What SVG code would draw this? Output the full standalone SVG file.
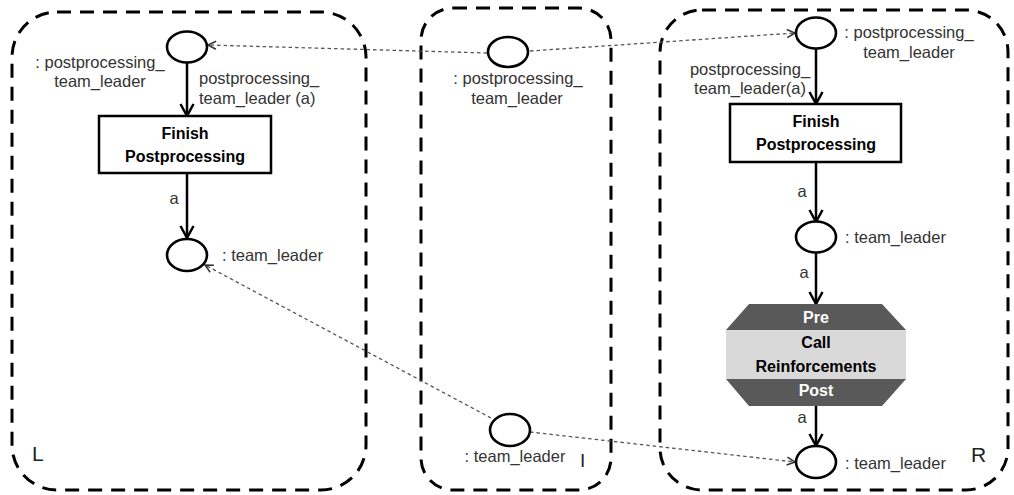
<svg xmlns="http://www.w3.org/2000/svg" width="1014" height="495" viewBox="0 0 1014 495">
<style>
.frame{fill:none;stroke:#000;stroke-width:3;stroke-dasharray:14 9}
.place{fill:#fff;stroke:#000;stroke-width:2.6}
.trans{fill:#fff;stroke:#000;stroke-width:2.5}
.arc{fill:none;stroke:#000;stroke-width:2.5}
.map{fill:none;stroke:#555;stroke-width:1.3;stroke-dasharray:3.5 3}
.lbl{font-family:"Liberation Sans",Arial,sans-serif;font-size:16.5px;fill:#333}
.bold{font-family:"Liberation Sans",Arial,sans-serif;font-size:16px;font-weight:bold;fill:#000;text-anchor:middle}
.wb{font-family:"Liberation Sans",Arial,sans-serif;font-size:16px;font-weight:bold;fill:#fff;text-anchor:middle}
.big{font-family:"Liberation Sans",Arial,sans-serif;font-size:21px;fill:#222}
.mid{text-anchor:middle}
</style>
<defs>
<marker id="ah" markerWidth="18" markerHeight="18" refX="14" refY="8" orient="auto" markerUnits="userSpaceOnUse">
<path d="M2,1.5 L14,8 L2,14.5" fill="none" stroke="#000" stroke-width="2.5"/>
</marker>
<marker id="dh" markerWidth="12" markerHeight="12" refX="9" refY="5" orient="auto" markerUnits="userSpaceOnUse">
<path d="M1,1 L9,5 L1,9" fill="none" stroke="#333" stroke-width="1.5"/>
</marker>
</defs>

<g id="frames">
<rect id="frame-L" class="frame" x="12" y="12" width="354" height="478" rx="45" ry="45"/>
<rect id="frame-I" class="frame" x="421" y="8" width="190" height="482" rx="32" ry="32"/>
<rect id="frame-R" class="frame" x="660" y="10" width="348" height="480" rx="42" ry="42"/>
<text class="big" x="32" y="461">L</text>
<text class="big" x="580" y="467" style="font-size:19px">I</text>
<text class="big" x="971" y="462">R</text>
</g>

<g id="connectors">
<line class="arc" x1="187" y1="63" x2="187" y2="116" marker-end="url(#ah)"/>
<line class="arc" x1="187" y1="173" x2="187" y2="238" marker-end="url(#ah)"/>
<line class="arc" x1="816" y1="49" x2="816" y2="104" marker-end="url(#ah)"/>
<line class="arc" x1="816" y1="162" x2="816" y2="222" marker-end="url(#ah)"/>
<line class="arc" x1="816" y1="253" x2="816" y2="304" marker-end="url(#ah)"/>
<line class="arc" x1="816" y1="406" x2="816" y2="446" marker-end="url(#ah)"/>
<line class="map" x1="487" y1="53" x2="208" y2="45" marker-end="url(#dh)"/>
<line class="map" x1="530" y1="51" x2="795" y2="33" marker-end="url(#dh)"/>
<line class="map" x1="491" y1="418" x2="205" y2="265" marker-end="url(#dh)"/>
<line class="map" x1="530" y1="432" x2="795" y2="462" marker-end="url(#dh)"/>
<text class="lbl" x="199" y="84">postprocessing_</text>
<text class="lbl" x="199" y="104">team_leader (a)</text>
<text class="lbl mid" x="174" y="204">a</text>
<text class="lbl mid" x="750" y="75">postprocessing_</text>
<text class="lbl mid" x="750" y="94">team_leader(a)</text>
<text class="lbl mid" x="802" y="197">a</text>
<text class="lbl mid" x="804" y="278">a</text>
<text class="lbl mid" x="802" y="423">a</text>
</g>

<g id="L-p1">
<ellipse class="place" cx="187" cy="47" rx="20" ry="15.5"/>
<text class="lbl mid" x="100" y="68">: postprocessing_</text>
<text class="lbl mid" x="100" y="87">team_leader</text>
</g>
<g id="L-t1">
<rect class="trans" x="99" y="116" width="172" height="57"/>
<text class="bold" x="185" y="139">Finish</text>
<text class="bold" x="185" y="162">Postprocessing</text>
</g>
<g id="L-p2">
<ellipse class="place" cx="187" cy="255" rx="20" ry="16"/>
<text class="lbl" x="222" y="261">: team_leader</text>
</g>

<g id="I-p1">
<ellipse class="place" cx="508" cy="52" rx="20" ry="15"/>
<text class="lbl mid" x="518" y="84">: postprocessing_</text>
<text class="lbl mid" x="517" y="104">team_leader</text>
</g>
<g id="I-p2">
<ellipse class="place" cx="510" cy="430" rx="20" ry="16"/>
<text class="lbl mid" x="515" y="462">: team_leader</text>
</g>

<g id="R-p1">
<ellipse class="place" cx="816" cy="33" rx="20" ry="15.5"/>
<text class="lbl mid" x="909" y="38">: postprocessing_</text>
<text class="lbl mid" x="909" y="58">team_leader</text>
</g>
<g id="R-t1">
<rect class="trans" x="730" y="104" width="171" height="58"/>
<text class="bold" x="816" y="127">Finish</text>
<text class="bold" x="816" y="150">Postprocessing</text>
</g>
<g id="R-p2">
<ellipse class="place" cx="816" cy="237" rx="20" ry="15.5"/>
<text class="lbl" x="845" y="243">: team_leader</text>
</g>
<g id="R-call">
<polygon points="749,304 882,304 906,330 726,330" fill="#595959"/>
<rect x="726" y="330" width="180" height="49" fill="#d9d9d9"/>
<polygon points="726,379 906,379 882,406 749,406" fill="#595959"/>
<text class="wb" x="816" y="323">Pre</text>
<text class="bold" x="816" y="348">Call</text>
<text class="bold" x="816" y="372">Reinforcements</text>
<text class="wb" x="816" y="396">Post</text>
</g>
<g id="R-p3">
<ellipse class="place" cx="816" cy="462" rx="20" ry="16"/>
<text class="lbl" x="845" y="469">: team_leader</text>
</g>
</svg>
